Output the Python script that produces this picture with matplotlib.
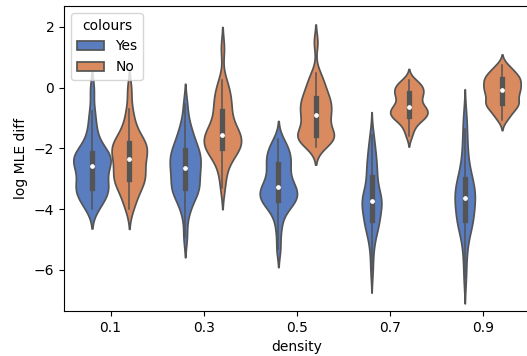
import numpy as np
import pandas as pd
import matplotlib
matplotlib.use("Agg")
import matplotlib.pyplot as plt
import seaborn as sns

densities = ["0.1", "0.3", "0.5", "0.7", "0.9"]
colours = ["Yes", "No"]

# log MLE diff samples per (density, colours) group
yes_01 = [-3.98, -3.85, -3.72, -3.61, -3.51, -3.42, -3.35, -3.31, -3.27, -3.17,
          -3.06, -2.95, -2.84, -2.74, -2.63, -2.53, -2.47, -2.42, -2.37, -2.31,
          -2.25, -2.19, -2.15, -2.06, -1.93, -1.75, -1.50, -1.18, -0.78, -0.05]
no_01 = [-4.00, -3.75, -3.55, -3.40, -3.28, -3.15, -3.06, -3.01, -2.97, -2.88,
         -2.78, -2.68, -2.58, -2.48, -2.39, -2.29, -2.22, -2.14, -2.06, -1.99,
         -1.92, -1.85, -1.82, -1.75, -1.62, -1.48, -1.30, -1.05, -0.70, -0.05]
yes_03 = [-4.90, -4.20, -3.90, -3.70, -3.55, -3.45, -3.37, -3.32, -3.27, -3.18,
          -3.06, -2.95, -2.85, -2.75, -2.67, -2.59, -2.51, -2.43, -2.35, -2.27,
          -2.19, -2.09, -2.05, -1.95, -1.82, -1.68, -1.52, -1.35, -1.10, -0.55]
no_03 = [-3.30, -2.85, -2.55, -2.35, -2.20, -2.10, -2.03, -2.00, -1.96, -1.90,
         -1.83, -1.76, -1.69, -1.63, -1.57, -1.51, -1.45, -1.38, -1.30, -1.20,
         -1.05, -0.82, -0.73, -0.60, -0.45, -0.30, -0.15, 0.02, 0.24, 1.30]
yes_05 = [-5.30, -4.70, -4.30, -4.05, -3.90, -3.80, -3.74, -3.71, -3.67, -3.60,
          -3.53, -3.46, -3.40, -3.35, -3.30, -3.24, -3.16, -3.06, -2.95, -2.82,
          -2.68, -2.58, -2.50, -2.40, -2.30, -2.20, -2.10, -2.00, -1.88, -1.70]
no_05 = [-1.95, -1.85, -1.77, -1.70, -1.65, -1.61, -1.59, -1.575, -1.555, -1.45,
         -1.33, -1.22, -1.10, -1.00, -0.94, -0.86, -0.78, -0.70, -0.62, -0.54,
         -0.46, -0.40, -0.33, -0.22, -0.10, 0.02, 0.15, 0.30, 0.49, 1.50]
yes_07 = [-6.00, -5.40, -5.00, -4.80, -4.62, -4.50, -4.41, -4.38, -4.34, -4.18,
          -4.02, -3.90, -3.82, -3.77, -3.74, -3.70, -3.66, -3.60, -3.52, -3.40,
          -3.22, -3.00, -2.91, -2.75, -2.60, -2.45, -2.30, -2.10, -1.85, -1.55]
no_07 = [-1.59, -1.38, -1.24, -1.13, -1.04, -0.99, -0.96, -0.94, -0.90, -0.85,
         -0.80, -0.76, -0.72, -0.68, -0.66, -0.62, -0.55, -0.46, -0.38, -0.31,
         -0.25, -0.20, -0.16, -0.10, -0.04, 0.01, 0.06, 0.11, 0.18, 0.27]
yes_09 = [-6.25, -5.60, -5.15, -4.85, -4.65, -4.50, -4.40, -4.36, -4.32, -4.22,
          -4.05, -3.90, -3.80, -3.72, -3.65, -3.59, -3.53, -3.46, -3.38, -3.28,
          -3.16, -3.03, -2.98, -2.85, -2.65, -2.40, -2.10, -1.75, -1.35, -0.90]
no_09 = [-1.05, -0.92, -0.82, -0.73, -0.65, -0.59, -0.54, -0.52, -0.48, -0.42,
         -0.34, -0.27, -0.21, -0.16, -0.12, -0.06, -0.02, 0.03, 0.08, 0.13,
         0.18, 0.25, 0.28, 0.32, 0.37, 0.42, 0.48, 0.56, 0.65, 0.75]

groups = {
    ("0.1", "Yes"): yes_01, ("0.1", "No"): no_01,
    ("0.3", "Yes"): yes_03, ("0.3", "No"): no_03,
    ("0.5", "Yes"): yes_05, ("0.5", "No"): no_05,
    ("0.7", "Yes"): yes_07, ("0.7", "No"): no_07,
    ("0.9", "Yes"): yes_09, ("0.9", "No"): no_09,
}

rows = []
for (d, c), vals in groups.items():
    for v in vals:
        rows.append({"density": d, "colours": c, "log MLE diff": v})
df = pd.DataFrame(rows)

fig = plt.figure(figsize=(5.27, 3.56), dpi=100)
ax = fig.add_axes([64 / 527, 45 / 356, 466 / 527, 305 / 356])

# widths are normalised within each density group
for i, d in enumerate(densities):
    sub = df[df["density"] == d]
    sns.violinplot(data=sub, x="density", y="log MLE diff", hue="colours",
                   order=densities, hue_order=colours, palette="muted",
                   density_norm="area", common_norm=True, bw_adjust=0.7,
                   inner="box",
                   inner_kws=dict(box_width=3.8, whis_width=1.1, marker="o", markersize=2.6),
                   legend="auto" if i == 0 else False, ax=ax)

ax.set_xlim(-0.5, 4.5)
ax.set_ylim(-7.35, 2.69)
ax.set_yticks([-6, -4, -2, 0, 2])
ax.set_xlabel("density")
ax.set_ylabel("log MLE diff")
sns.move_legend(ax, "upper left", title="colours")

fig.savefig("out.png", dpi=100)
